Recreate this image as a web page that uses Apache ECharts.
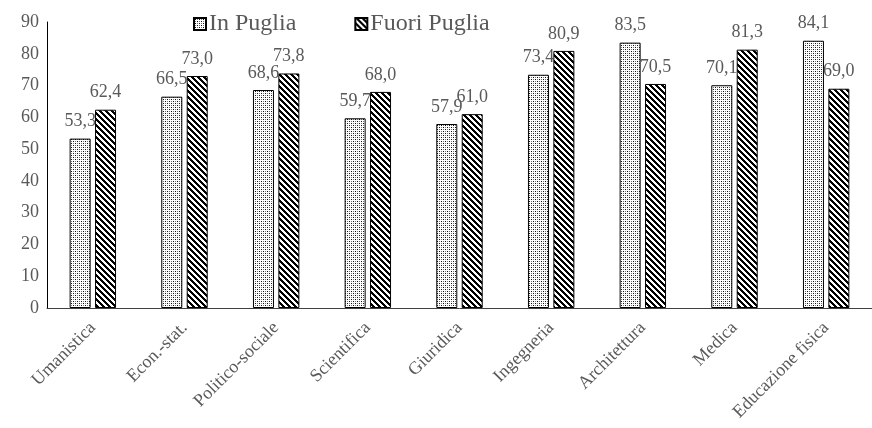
<!DOCTYPE html>
<html>
<head>
<meta charset="utf-8">
<script src="https://cdn.jsdelivr.net/npm/echarts@6/dist/echarts.min.js"></script>
<style>html,body{margin:0;padding:0;background:#fff}#c{width:872px;height:428px}</style>
</head>
<body>
<div id="c"></div>
<script>
const categories = ['Umanistica','Econ.-stat.','Politico-sociale','Scientifica','Giuridica','Ingegneria','Architettura','Medica','Educazione fisica'];
const inPuglia = [53.3, 66.5, 68.6, 59.7, 57.9, 73.4, 83.5, 70.1, 84.1];
const fuoriPuglia = [62.4, 73.0, 73.8, 68.0, 61.0, 80.9, 70.5, 81.3, 69.0];
const seriesNames = ['In Puglia', 'Fuori Puglia'];
const yTicks = [0, 10, 20, 30, 40, 50, 60, 70, 80, 90];

function dotPattern() {
  const c = document.createElement('canvas');
  c.width = 4; c.height = 4;
  const g = c.getContext('2d');
  g.fillStyle = '#fff'; g.fillRect(0, 0, 4, 4);
  g.fillStyle = '#111';
  g.fillRect(1, 1, 1, 1);
  g.fillRect(3, 3, 1, 1);
  g.fillStyle = '#777';
  g.fillRect(3, 1, 1, 1);
  g.fillRect(1, 3, 1, 1);
  return c;
}
function stripePattern() {
  const c = document.createElement('canvas');
  c.width = 6; c.height = 6;
  const g = c.getContext('2d');
  const img = g.createImageData(6, 6);
  for (let y = 0; y < 6; y++) for (let x = 0; x < 6; x++) {
    const k = ((x - y) % 6 + 6) % 6;
    const v = k < 3 ? 0 : 255;
    const i = (y * 6 + x) * 4;
    img.data[i] = v; img.data[i+1] = v; img.data[i+2] = v; img.data[i+3] = 255;
  }
  g.putImageData(img, 0, 0);
  return c;
}
const font = "'Liberation Serif', 'Times New Roman', serif";
const gray = '#595959';
const chart = echarts.init(document.getElementById('c'), null, {renderer: 'canvas'});
const fmt = p => p.value.toFixed(1).replace('.', ',');
chart.setOption({
  animation: false,
  grid: {left: 47, right: 0, top: 22, bottom: 120},
  legend: {
    left: 188, top: 7, itemWidth: 12, itemHeight: 12, itemGap: 58,
    icon: 'rect',
    textStyle: {fontFamily: font, fontSize: 24, color: gray, padding: [0,0,0,-2]},
    data: seriesNames
  },
  xAxis: {
    type: 'category', data: categories,
    axisLine: {lineStyle: {color: '#404040', width: 1}},
    axisTick: {show: false},
    axisLabel: {rotate: 45, interval: 0, fontFamily: font, fontSize: 18, color: gray, margin: 17}
  },
  yAxis: {
    type: 'value', min: yTicks[0], max: yTicks[yTicks.length-1], interval: 10,
    splitLine: {show: false},
    axisLine: {show: true, lineStyle: {color: '#000', width: 1}},
    axisLabel: {fontFamily: font, fontSize: 18, color: gray, margin: 8}
  },
  series: [
    {
      name: seriesNames[0], type: 'bar', data: inPuglia, barWidth: 21, barGap: '21%',
      itemStyle: {color: {image: dotPattern(), repeat: 'repeat'}, borderColor: '#000', borderWidth: 1},
      label: {show: true, position: 'top', distance: 8, formatter: fmt, fontFamily: font, fontSize: 18, color: gray}
    },
    {
      name: seriesNames[1], type: 'bar', data: fuoriPuglia, barWidth: 21,
      itemStyle: {color: {image: stripePattern(), repeat: 'repeat'}, borderColor: '#000', borderWidth: 1},
      label: {show: true, position: 'top', distance: 8, formatter: fmt, fontFamily: font, fontSize: 18, color: gray}
    }
  ]
});
</script>
</body>
</html>
